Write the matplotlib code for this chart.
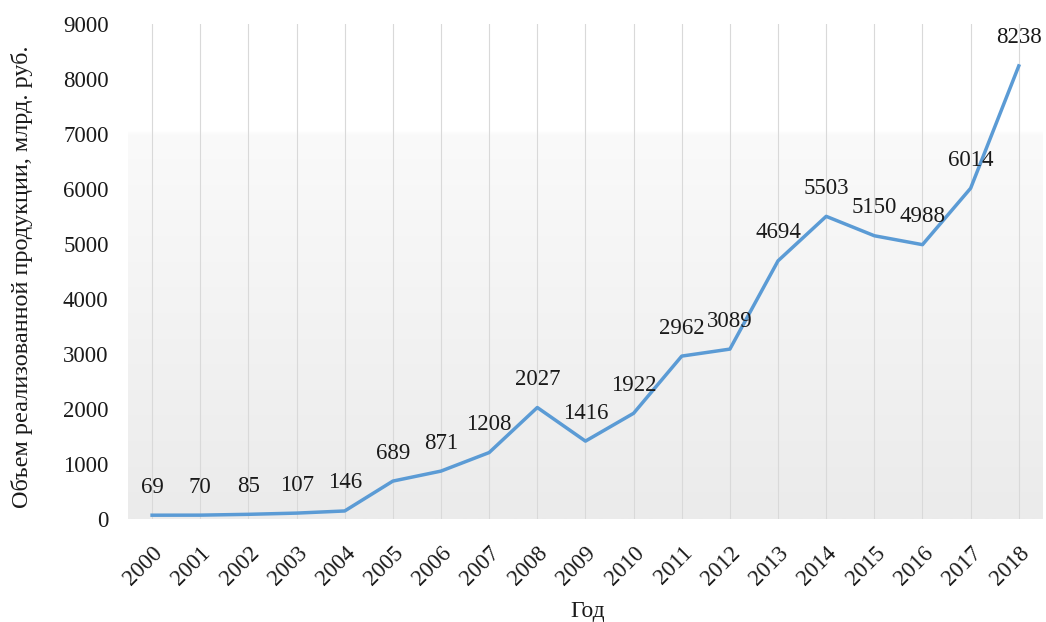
import numpy as np
import matplotlib.pyplot as plt
from matplotlib.colors import LinearSegmentedColormap

years = [str(y) for y in range(2000, 2019)]
volume = [69, 70, 85, 107, 146, 689, 871, 1208, 2027, 1416, 1922,
          2962, 3089, 4694, 5503, 5150, 4988, 6014, 8238]

plt.rcParams['font.family'] = ['Liberation Serif', 'DejaVu Serif']

fig = plt.figure(figsize=(10.46, 6.22), dpi=100)
ax = fig.add_axes([0.1224, 0.1656, 0.8746, 0.7958])

x = np.arange(len(years))
ax.set_xlim(-0.5, len(years) - 0.5)
ax.set_ylim(0, 9000)

# gradient background: white at top, light grey towards the bottom
cmap = LinearSegmentedColormap.from_list(
    'bg', [(0, '#ebebeb'), (0.78, '#fafafa'), (0.781, '#ffffff'), (1, '#ffffff')])
grad = np.linspace(0, 1, 256).reshape(-1, 1)
ax.imshow(grad, cmap=cmap, aspect='auto', origin='lower',
          extent=[-0.5, len(years) - 0.5, 0, 9000], zorder=0)

for xi in x:
    ax.axvline(xi, color='#d9d9d9', lw=0.8, zorder=1)

ax.plot(x, volume, color='#5b9bd5', lw=2.5, zorder=3)

for xi, v in zip(x, volume):
    ax.annotate(str(v), (xi, v), xytext=(0, 28), textcoords='offset pixels',
                ha='center', va='center', fontsize=16.5, color='#1a1a1a', zorder=4)

ax.set_xticks(x)
ax.set_xticklabels(years, rotation=45, ha='right', rotation_mode='anchor')
ax.set_yticks(range(0, 9001, 1000))
ax.tick_params(axis='both', length=0, labelsize=16.5, colors='#1a1a1a')
ax.tick_params(axis='x', pad=17)
ax.tick_params(axis='y', pad=14)

for s in ax.spines.values():
    s.set_visible(False)

ax.set_xlabel('Год', fontsize=17, color='#1a1a1a')
ax.xaxis.set_label_coords(0.502, -0.165)
ax.set_ylabel('Объем реализованной продукции, млрд. руб.', fontsize=17.5,
              color='#1a1a1a')
ax.yaxis.set_label_coords(-0.104, 0.49)

fig.savefig('out.png', dpi=100)
